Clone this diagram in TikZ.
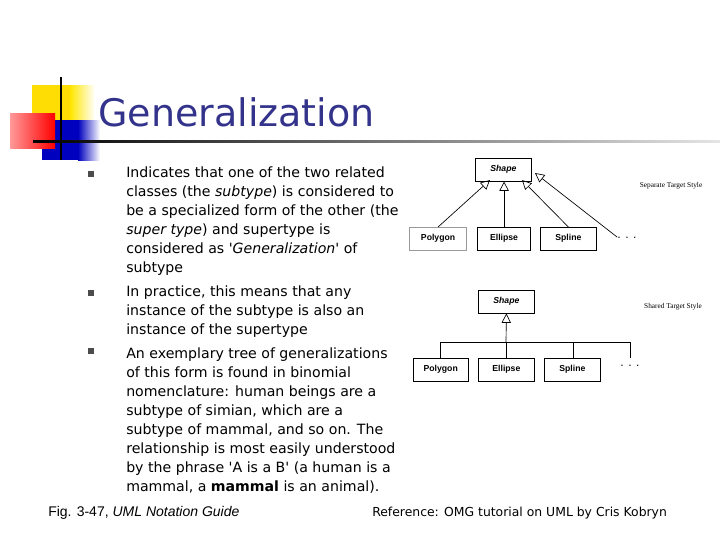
\documentclass[tikz,border=0pt]{standalone}
\usepackage{fontspec}
\setmainfont{DejaVu Sans}
\newfontfamily\arl{Liberation Sans}
\newfontfamily\tms{Liberation Serif}
\usetikzlibrary{arrows.meta}
\definecolor{navy}{RGB}{51,51,140}
\tikzset{
 cls/.style={draw,line width=0.6pt,minimum height=17pt,anchor=north west,inner sep=0pt,font=\arl\fontsize{6.5}{7}\selectfont\bfseries},
 gen/.style={-{Triangle[open,length=7pt,width=7pt]},line width=0.5pt},
 txt/.style={anchor=base west,inner sep=0pt,font=\fontsize{10.6}{12}\selectfont},
 bul/.style={fill=black!70,minimum size=4pt,inner sep=0pt},
 lbl/.style={font=\tms\fontsize{5.5}{6}\selectfont,inner sep=0pt},
 dots/.style={inner sep=0pt,font=\fontsize{8}{8}\selectfont}
}
\begin{document}
\begin{tikzpicture}[x=0.75pt,y=-0.75pt]
\useasboundingbox (0,0) rectangle (720,540);
% decoration
\fill[yellow!80!orange] (32,85) rectangle (82,120);
\shade[left color=yellow!80!orange,right color=white] (70,85) rectangle (95,120);
\fill[blue!75!black] (42,120) rectangle (80,160);
\shade[left color=blue!75!black,right color=white] (78,120) rectangle (100,160);
\shade[left color=red!40,right color=red] (10,113) rectangle (55,148);
\draw[line width=2pt] (61,77) -- (61,160);
\shade[left color=black,right color=black!10] (33,140) rectangle (720,142.5);
\node[anchor=base west,inner sep=0pt,text=navy,font=\fontsize{28.5}{30}\selectfont] (title) at (98,126) {Generalization};
% bullets
\foreach \y/\n in {174/b1,293/b2,351/b3} \node[bul] (\n) at (91,\y) {};
\foreach \y/\t [count=\i] in {
177/{Indicates that one of the two related},
196/{classes (the \emph{subtype}) is considered to},
215/{be a specialized form of the other (the},
234/{\emph{super type}) and supertype is},
253/{considered as \textquotesingle\emph{Generalization}\textquotesingle\ of},
272/{subtype},
296/{In practice, this means that any},
315/{instance of the subtype is also an},
334/{instance of the supertype},
358/{An exemplary tree of generalizations},
377/{of this form is found in binomial},
396/{nomenclature: human beings are a},
415/{subtype of simian, which are a},
434/{subtype of mammal, and so on. The},
453/{relationship is most easily understood},
472/{by the phrase \textquotesingle A is a B\textquotesingle\ (a human is a},
491/{mammal, a \textbf{mammal} is an animal).}}
 \node[txt] (t\i) at (126,\y) {\t};
% separate target style
\node[cls,minimum width=42pt] (s1) at (475,158) {\itshape Shape};
\node[cls,minimum width=43pt,draw=black!40] (p1) at (409,227) {Polygon};
\node[cls,minimum width=40pt] (e1) at (477,227) {Ellipse};
\node[cls,minimum width=42pt] (sp1) at (540,227) {Spline};
\node[dots] (d1) at (627,238) {. . .};
\node[lbl] (l1) at (671,186) {Separate Target Style};
\draw[gen] (p1.north) -- (490,180);
\draw[gen] (e1.north) -- (e1.north|-s1.south);
\draw[gen] (sp1.north) -- (522,180);
\draw[gen] (d1.north west) -- (535,173);
% shared target style
\node[cls,minimum width=42pt] (s2) at (478,290) {\itshape Shape};
\node[cls,minimum width=41pt] (p2) at (413,358) {Polygon};
\node[cls,minimum width=42pt] (e2) at (478,358) {Ellipse};
\node[cls,minimum width=42pt] (sp2) at (544,358) {Spline};
\node[dots] (d2) at (630,366) {. . .};
\node[lbl] (l2) at (673,307) {Shared Target Style};
\coordinate (j) at (506,342);
\draw[gen] (j) -- (s2.south);
\draw[line width=0.5pt] (440,342) -- (630,342);
\draw[line width=0.5pt] (440,342) -- (440,358);
\draw[line width=0.5pt] (j) -- (506,358);
\draw[line width=0.5pt] (573,342) -- (573,358);
\draw[line width=0.5pt] (630,342) -- (630,358);
% footer
\node[anchor=base west,inner sep=0pt,font=\arl\fontsize{10.5}{12}\selectfont] (f1) at (48,516) {Fig. 3-47, \emph{UML Notation Guide}};
\node[anchor=base west,inner sep=0pt,font=\fontsize{9.3}{12}\selectfont] (f2) at (372,516) {Reference: OMG tutorial on UML by Cris Kobryn};
\end{tikzpicture}
\end{document}
